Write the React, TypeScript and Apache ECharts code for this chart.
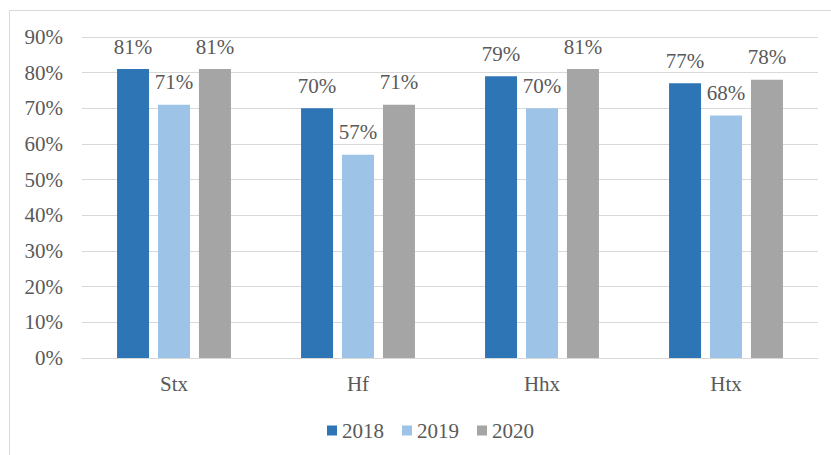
import React, { useEffect, useRef } from "react";
import * as echarts from "echarts";

const categories = ["Stx", "Hf", "Hhx", "Htx"];
const s2018 = [81, 70, 79, 77];
const s2019 = [71, 57, 70, 68];
const s2020 = [81, 71, 81, 78];
const yTicks = [0, 10, 20, 30, 40, 50, 60, 70, 80, 90];

const FONT = "Liberation Serif";
const TXT = "#595959";
const FS = 21;

export default function App() {
  const ref = useRef<HTMLDivElement>(null);
  useEffect(() => {
    if (!ref.current) return;
    const chart = echarts.init(ref.current, null, { renderer: "svg" });
    const mk = (name: string, data: number[], color: string) => ({
      name,
      type: "bar",
      data,
      barWidth: 32,
      barGap: "28%",
      itemStyle: { color },
      label: {
        show: true,
        position: "top",
        distance: 12,
        formatter: "{c}%",
        fontFamily: FONT,
        fontSize: FS,
        color: TXT,
      },
    });
    chart.setOption({
      animation: false,
      textStyle: { fontFamily: FONT },
      graphic: [
        {
          type: "rect",
          shape: { x: 9.5, y: 10.5, width: 840, height: 460 },
          style: { fill: "none", stroke: "#d9d9d9", lineWidth: 1 },
          silent: true,
        },
      ],
      grid: { left: 82, right: 13, top: 37, bottom: 97, containLabel: false },
      legend: {
        data: ["2018", "2019", "2020"],
        top: 415,
        left: 322,
        itemWidth: 10,
        itemHeight: 10,
        itemGap: 18,
        icon: "rect",
        textStyle: { fontFamily: FONT, fontSize: FS, color: TXT },
      },
      xAxis: {
        type: "category",
        data: categories,
        axisLine: { show: true, lineStyle: { color: "#d9d9d9" } },
        axisTick: { show: false },
        axisLabel: { fontFamily: FONT, fontSize: FS, color: TXT, margin: 15 },
      },
      yAxis: {
        type: "value",
        min: yTicks[0],
        max: yTicks[yTicks.length - 1],
        interval: 10,
        axisLine: { show: false },
        axisTick: { show: false },
        splitLine: { lineStyle: { color: "#d9d9d9" } },
        axisLabel: {
          fontFamily: FONT,
          fontSize: FS,
          color: TXT,
          margin: 19,
          formatter: "{value}%",
        },
      },
      series: [
        mk("2018", s2018, "#2E75B6"),
        mk("2019", s2019, "#9DC3E6"),
        mk("2020", s2020, "#A5A5A5"),
      ],
    });
    return () => chart.dispose();
  }, []);
  return (
    <div
      ref={ref}
      style={{ position: "fixed", left: 0, top: 0, width: 831, height: 455, background: "#fff" }}
    />
  );
}
